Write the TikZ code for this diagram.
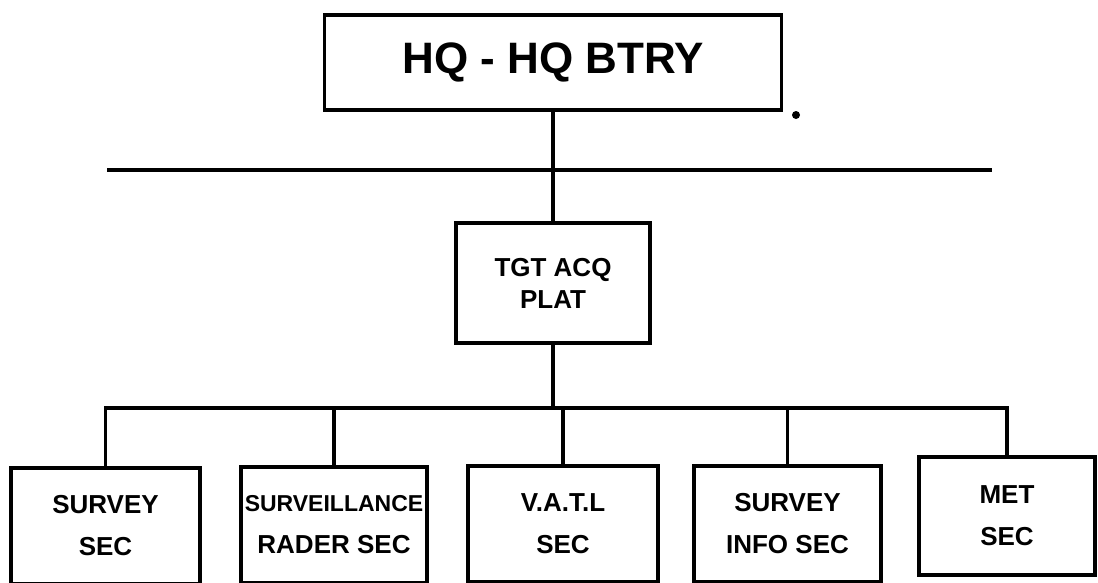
\documentclass[tikz,border=0pt]{standalone}
\usepackage{fontspec}
\setmainfont{Liberation Sans}
\begin{document}
\begin{tikzpicture}[
		x=1pt, y=-1pt,
		line width=3.8pt,
		every node/.style={draw, rectangle, align=center, inner sep=0pt},
		unit/.style={minimum height=116pt, font=\bfseries\fontsize{26}{42}\selectfont},
		platbox/.style={minimum width=194pt, minimum height=120pt, font=\bfseries\fontsize{26}{32}\selectfont},
		hqbox/.style={minimum width=457pt, minimum height=95pt, font=\bfseries\fontsize{44}{50}\selectfont}
		]
		\useasboundingbox (0,0) rectangle (1098,582);
		\node[hqbox] (hq) at (553,62.5) {HQ - HQ BTRY};
		\node[platbox] (plat) at (553,283) {TGT ACQ\\PLAT};
		\node[unit, minimum width=189pt] (survey) at (105.5,526) {SURVEY\\SEC};
		\node[unit, minimum width=186pt] (radar) at (334,525) {{\fontsize{23}{42}\selectfont SURVEILLANCE}\\RADER SEC};
		\node[unit, minimum width=190pt] (vatl) at (563,524) {V.A.T.L\\SEC};
		\node[unit, minimum width=187pt] (info) at (787.5,524) {SURVEY\\INFO SEC};
		\node[unit, minimum width=176pt, minimum height=118pt] (met) at (1007,516) {MET\\SEC};
		% rule across the page
		\coordinate (ruleL) at (107,170);
		\coordinate (ruleR) at (992,170);
		\draw (ruleL) -- (ruleR);
		\fill (796,115) circle (4pt);
		% lines of command
		\coordinate (bus) at (553,408);
		\draw (hq) -- (plat);
		\draw (plat) -- (bus);
		\draw (survey.north) |- (bus) -| (met.north);
		\foreach \sec in {radar, vatl, info}
			\draw (\sec.north) -- (\sec.north |- bus);
	\end{tikzpicture}
\end{document}
